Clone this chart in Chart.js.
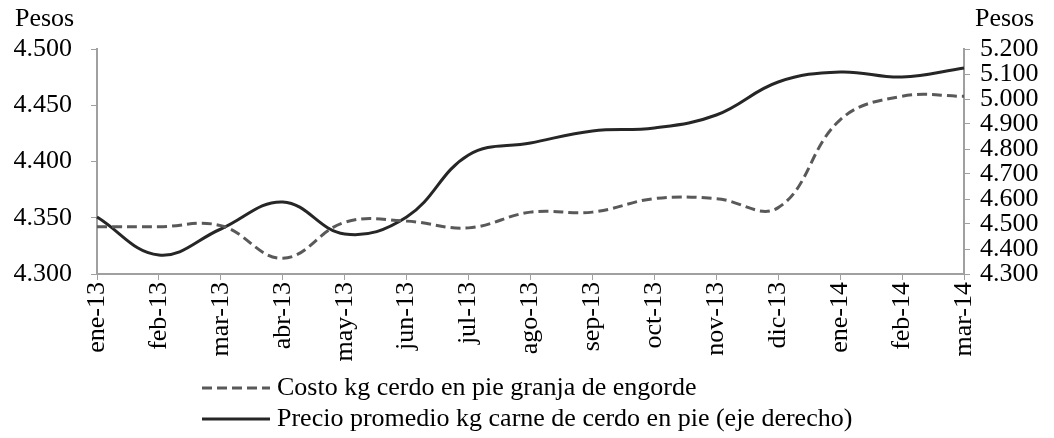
<!DOCTYPE html>
<html>
<head>
<meta charset="utf-8">
<script src="https://cdn.jsdelivr.net/npm/chart.js@4.4.1/dist/chart.umd.min.js"></script>
<style>
  html, body { margin: 0; padding: 0; background: #fff; }
  #wrap { width: 1054px; height: 438px; position: relative; }
</style>
</head>
<body>
<div id="wrap"><canvas id="chart"></canvas></div>
<script>
const months = ['ene-13', 'feb-13', 'mar-13', 'abr-13', 'may-13', 'jun-13', 'jul-13', 'ago-13',
  'sep-13', 'oct-13', 'nov-13', 'dic-13', 'ene-14', 'feb-14', 'mar-14'];

// Costo kg cerdo en pie granja de engorde (eje izquierdo)
const costo = [4.342, 4.342, 4.343, 4.314, 4.346, 4.347, 4.341, 4.355,
  4.355, 4.367, 4.367, 4.359, 4.437, 4.458, 4.458];

// Precio promedio kg carne de cerdo en pie (eje derecho)
const precio = [4.528, 4.376, 4.480, 4.588, 4.460, 4.528, 4.776, 4.824,
  4.872, 4.884, 4.936, 5.068, 5.108, 5.088, 5.124];

const leftAxis = { min: 4.3, max: 4.5, step: 0.05 };
const rightAxis = { min: 4.3, max: 5.2, step: 0.1 };
const unitLabel = 'Pesos';

const FONT = '"Liberation Serif", "Times New Roman", serif';
const axisGray = '#a0a0a0';

// titles "Pesos" and the stacked legend under the axis
const extras = {
  id: 'extras',
  afterDraw(chart) {
    const ctx = chart.ctx;
    ctx.save();
    ctx.fillStyle = '#000';
    ctx.font = '26px ' + FONT;
    ctx.textBaseline = 'alphabetic';
    ctx.textAlign = 'left';
    ctx.fillText(unitLabel, 15, 26);
    ctx.fillText(unitLabel, 975, 26);

    const rows = [388, 419];
    chart.data.datasets.forEach((ds, i) => {
      const y = rows[i];
      ctx.strokeStyle = ds.borderColor;
      ctx.lineWidth = ds.borderWidth;
      ctx.setLineDash(ds.borderDash || []);
      ctx.beginPath();
      ctx.moveTo(202, y);
      ctx.lineTo(270, y);
      ctx.stroke();
      ctx.setLineDash([]);
      ctx.fillStyle = '#000';
      ctx.textBaseline = 'middle';
      ctx.fillText(ds.label, 277, y);
    });
    ctx.restore();
  }
};

new Chart(document.getElementById('chart'), {
  type: 'line',
  data: {
    labels: months,
    datasets: [
      {
        label: 'Costo kg cerdo en pie granja de engorde',
        data: costo,
        yAxisID: 'y',
        borderColor: '#595959',
        borderWidth: 3,
        borderDash: [10, 5],
        pointRadius: 0,
        tension: 0.4,
        fill: false
      },
      {
        label: 'Precio promedio kg carne de cerdo en pie (eje derecho)',
        data: precio,
        yAxisID: 'y1',
        borderColor: '#262626',
        borderWidth: 3,
        pointRadius: 0,
        tension: 0.4,
        fill: false
      }
    ]
  },
  options: {
    responsive: true,
    maintainAspectRatio: false,
    animation: false,
    layout: { padding: { top: 49, left: 0, right: 0, bottom: 0 } },
    plugins: {
      legend: { display: false },
      tooltip: { enabled: false }
    },
    scales: {
      x: {
        offset: false,
        grid: { drawOnChartArea: false, color: axisGray, tickLength: 6, offset: false },
        border: { color: axisGray, width: 2 },
        ticks: {
          color: '#000',
          font: { family: FONT, size: 26 },
          minRotation: 90,
          maxRotation: 90,
          autoSkip: false,
          padding: 2
        },
        afterFit(scale) { scale.height = 164; }
      },
      y: {
        position: 'left',
        min: leftAxis.min,
        max: leftAxis.max,
        grid: { drawOnChartArea: false, color: axisGray, tickLength: 6 },
        border: { color: axisGray, width: 2 },
        ticks: {
          stepSize: leftAxis.step,
          autoSkip: false,
          color: '#000',
          font: { family: FONT, size: 26 },
          padding: 19,
          callback: v => v.toFixed(3)
        },
        afterFit(scale) { scale.width = 97; }
      },
      y1: {
        position: 'right',
        min: rightAxis.min,
        max: rightAxis.max,
        grid: { drawOnChartArea: false, color: axisGray, tickLength: 6 },
        border: { color: axisGray, width: 2 },
        ticks: {
          stepSize: rightAxis.step,
          autoSkip: false,
          color: '#000',
          font: { family: FONT, size: 26 },
          padding: 10,
          callback: v => v.toFixed(3)
        },
        afterFit(scale) { scale.width = 90; }
      }
    }
  },
  plugins: [extras]
});
</script>
</body>
</html>
